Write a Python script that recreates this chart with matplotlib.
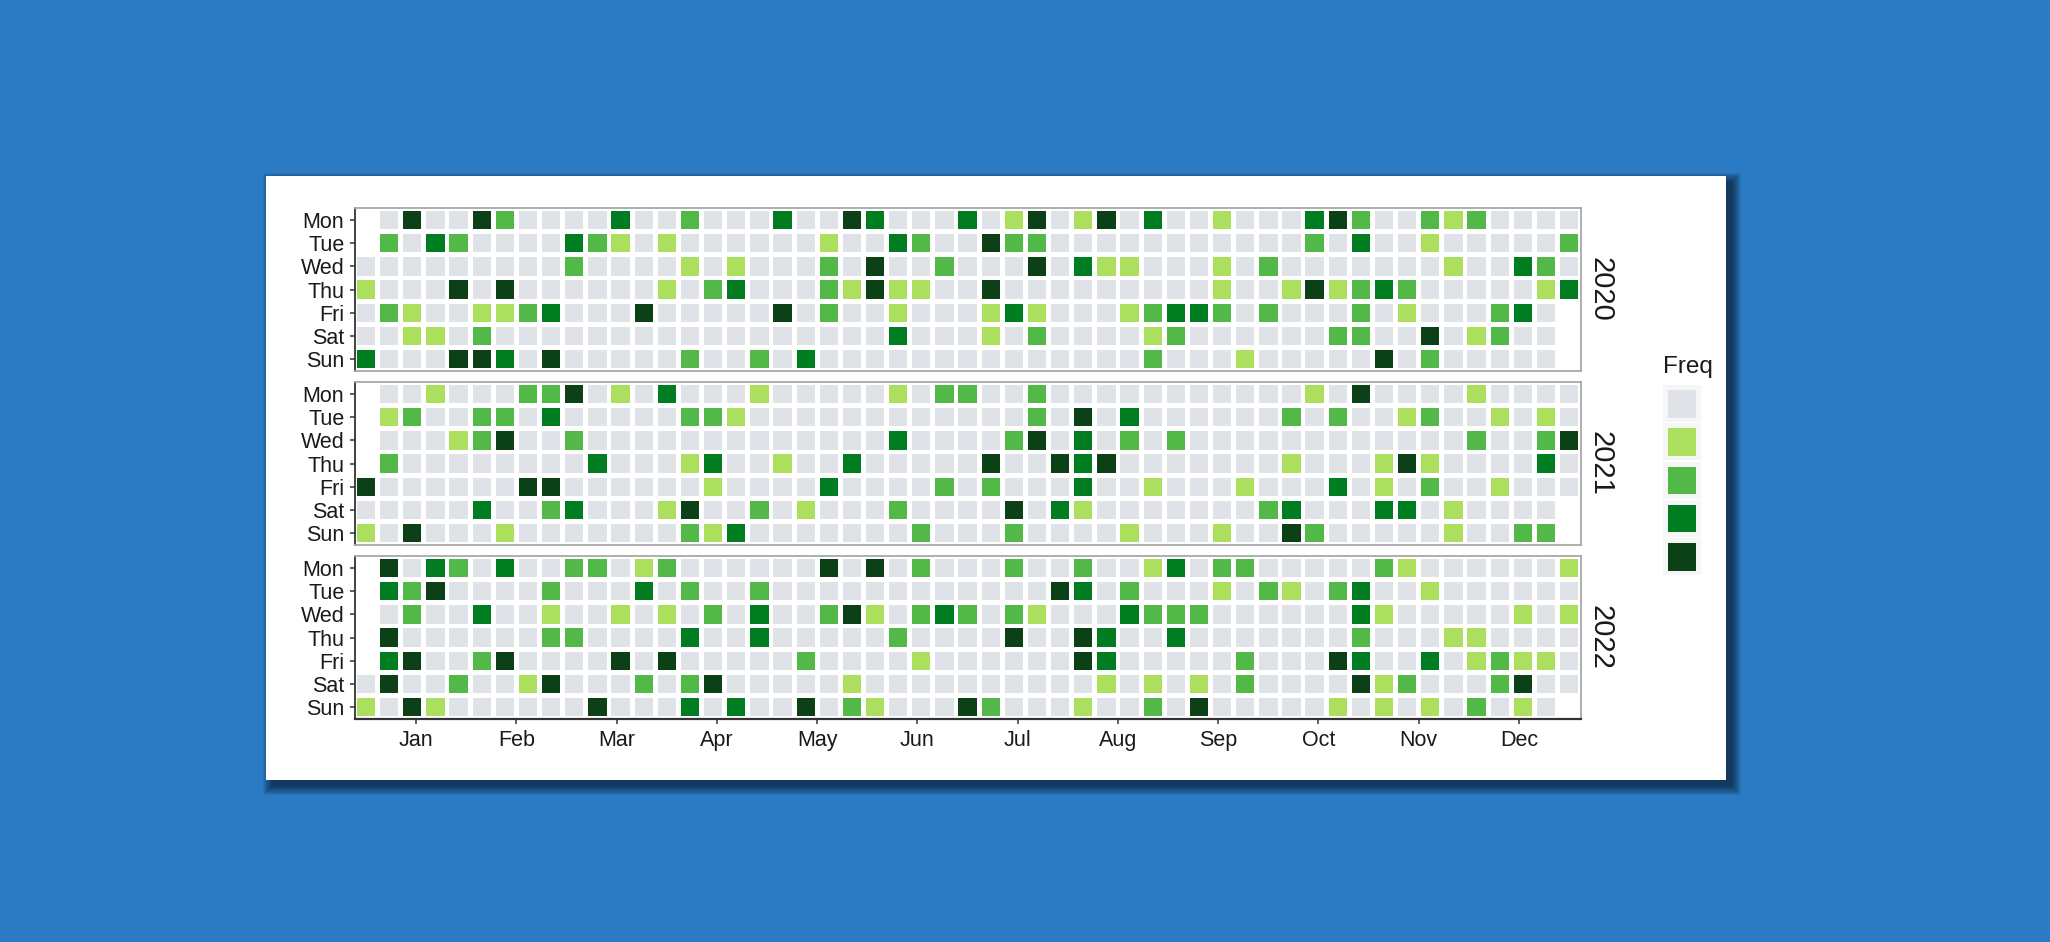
import datetime as dt
import matplotlib
matplotlib.use("Agg")
import matplotlib.pyplot as plt
from matplotlib.patches import Rectangle

plt.rcParams['font.family'] = ['Liberation Sans', 'DejaVu Sans']

W, H = 2050, 942

years = [2020, 2021, 2022]
weekdays = ["Mon", "Tue", "Wed", "Thu", "Fri", "Sat", "Sun"]
months = ["Jan", "Feb", "Mar", "Apr", "May", "Jun",
          "Jul", "Aug", "Sep", "Oct", "Nov", "Dec"]
freq_colors = ["#DFE3E8", "#ADDF5E", "#52B848", "#007D20", "#0C4016"]

# Freq level per weekday row (Mon..Sun) and week-of-year column (%W, 0..52); '-' = no day
freq_2020 = [
    "-040042000" "0300200030" "0430003014" "0140300100" "0342002120" "000",
    "-203200003" "2101000000" "1003200422" "0000000000" "0203001000" "002",
    "0000000002" "0000101000" "2040020004" "0311000102" "0000000100" "320",
    "1000404000" "0001023000" "2141100400" "0000000100" "1412320000" "013",
    "0210011230" "0040000040" "2001000131" "0001233202" "0002010002" "30-",
    "0011020000" "0000000000" "0003000102" "0000120000" "0022004012" "00-",
    "3000443040" "0000200203" "0000000000" "0000200010" "0000402000" "00-",
]
freq_2021 = [
    "-001000224" "0103000100" "0001022002" "0000000000" "0104000010" "000",
    "-120022030" "0000221000" "0000000002" "0403000000" "2020012001" "010",
    "-000124002" "0000000000" "0003000024" "0302020000" "0000000020" "024",
    "-200000000" "3000130010" "0300000400" "4340000000" "1000141000" "030",
    "4000000440" "0000010000" "3000020200" "0300100010" "0030102001" "000",
    "0000030023" "0001400201" "0002000040" "3100000002" "3000330100" "00-",
    "1040001000" "0000213000" "0000200020" "0001000100" "4200000100" "22-",
]
freq_2022 = [
    "-403203002" "2012000000" "4040200020" "0200130220" "0000210000" "001",
    "-324000020" "0030200200" "0000000000" "4302000102" "1023001000" "000",
    "-020030010" "0101020300" "2410232021" "0003222000" "0003100000" "101",
    "-400000022" "0000300300" "0002000040" "0430030000" "0002000110" "000",
    "-340024000" "0404000002" "0000100000" "0430000020" "0043003012" "110",
    "0400200140" "0020240000" "0100000000" "0010101020" "0004120002" "400",
    "1041000000" "4000303004" "0210004200" "0100204000" "0010101020" "10-",
]
freq_by_year = {2020: freq_2020, 2021: freq_2021, 2022: freq_2022}

TEXT = "#1a1a1a"

fig = plt.figure(figsize=(W / 100, H / 100), dpi=100)
fig.patch.set_facecolor("#2A7AC4")

# background axes in pixel coordinates (card + shadow + legend)
bg = fig.add_axes([0, 0, 1, 1])
bg.set_xlim(0, W)
bg.set_ylim(H, 0)
bg.axis("off")

cx0, cy0, cx1, cy1 = 266, 176, 1726, 780
for k in range(10):
    bg.add_patch(Rectangle((cx0 + 6 - k, cy0 + 6 - k), (cx1 - cx0) + 2 * k,
                           (cy1 - cy0) + 2 * k, facecolor="black",
                           edgecolor="none", alpha=0.065))
bg.add_patch(Rectangle((cx0, cy0), cx1 - cx0, cy1 - cy0,
                       facecolor="white", edgecolor="none"))

# legend
bg.text(1663, 373, "Freq", fontsize=17.5, color=TEXT, ha="left", va="baseline")
for i, c in enumerate(freq_colors):
    ky = 385 + 38.3 * i
    bg.add_patch(Rectangle((1663, ky), 38, 37, facecolor="#F6F6F6",
                           edgecolor="none"))
    bg.add_patch(Rectangle((1668, ky + 5), 28, 27.5, facecolor=c,
                           edgecolor="none"))


def ax_rect(l, t, r, b):
    return [l / W, 1 - b / H, (r - l) / W, (b - t) / H]


pl, pr = 354.5, 1580.7
tops = [208.4, 382.3, 556.3]
ph = 162.5
size = 0.79
month_pos = [(m + 0.5) * 52 / 12 for m in range(12)]

for i, year in enumerate(years):
    top = tops[i]
    ax = fig.add_axes(ax_rect(pl, top, pr, top + ph))
    ax.set_facecolor("white")
    ax.set_xlim(-0.5, 52.5)
    ax.set_ylim(6.5, -0.5)
    rows = freq_by_year[year]
    d = dt.date(year, 1, 1)
    while d.year == year:
        wd = d.weekday()
        wk = int(d.strftime("%W"))
        ch = rows[wd][wk]
        lev = int(ch) if ch.isdigit() else 0
        ax.add_patch(Rectangle((wk - size / 2, wd - size / 2), size, size,
                               facecolor=freq_colors[lev], edgecolor="none"))
        d += dt.timedelta(days=1)

    ax.set_yticks(range(7))
    ax.set_yticklabels(weekdays, fontsize=15.5, color=TEXT)
    ax.tick_params(axis="y", length=3.8, width=1.1, color="#333333", pad=3.5)
    last = (i == len(years) - 1)
    if last:
        ax.set_xticks(month_pos)
        ax.set_xticklabels(months, fontsize=15.5, color=TEXT)
        ax.tick_params(axis="x", length=3.8, width=1.1, color="#333333", pad=4)
    else:
        ax.set_xticks([])
    for s in ["top", "right", "bottom"]:
        ax.spines[s].set_color("#A8A8A8")
        ax.spines[s].set_linewidth(1.3)
    ax.spines["left"].set_color("#333333")
    ax.spines["left"].set_linewidth(1.3)
    if last:
        ax.spines["bottom"].set_color("#333333")
        ax.spines["bottom"].set_linewidth(1.6)

    bg.text(1601, top + ph / 2, str(year), rotation=-90, fontsize=21,
            color=TEXT, ha="center", va="center")

fig.savefig("out.png", dpi=100, facecolor=fig.get_facecolor())
